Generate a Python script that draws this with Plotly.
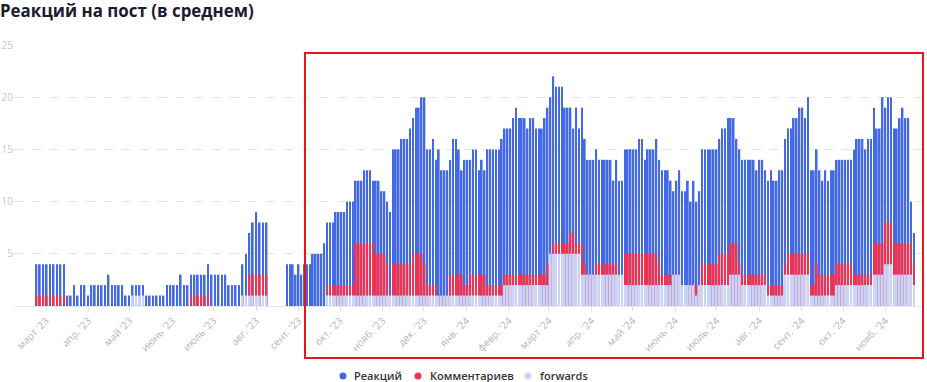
import pandas as pd
import plotly.graph_objects as go

# ---- data -------------------------------------------------------------
# early period (posts roughly every 2.5 days)
start_a = "2023-02-22"
step_a = "60h"
reactions_a = [4,4,4,4,4,4,4,4,4, 1,1,2,1,2,2,1, 2,2,2,2,2,3,2,2,2,2, 1,1,
               2,2,2,2, 1,1,1,1,1,1, 2,2,2,2, 3, 2,2, 3,3,3,3,3, 4, 3,3,3,3,3,
               2,2,2,2, 4,5,7,8,9,8,8,8]
comments_a = [1,1,1,1,1,1,1,1,1, 0,0,0,0,0,0,0, 0,0,0,0,0,0,0,0,0,0, 0,0,
              0,0,0,0, 0,0,0,0,0,0, 0,0,0,0, 0, 0,0, 1,1,1,1,1, 1, 0,0,0,0,0,
              0,0,0,0, 1,1,3,3,3,3,3,3]
forwards_a = [0,0,0,0,0,0,0,0,0, 0,0,0,0,0,0,0, 0,0,0,0,0,0,0,0,0,0, 0,0,
              1,1,1,1, 0,0,0,0,0,0, 0,0,0,0, 0, 0,0, 0,0,0,0,0, 0, 0,0,0,0,0,
              0,0,0,0, 1,1,1,1,1,1,1,1]

# later period (posts roughly every 2 days)
start_b = "2023-08-23 10:00"
step_b = "50h"
reactions_b = [
    4,4,4,3,4,3,4,4,4,5,   5,5,5,6,8,8,8,9,9,9,
    9,10,10,10,12,12,12,13,13,13,   12,12,12,11,11,10,9,15,15,15,
    16,16,16,17,18,19,19,20,20,15,   15,16,14,15,13,13,13,14,16,16,
    15,13,14,14,14,15,15,13,14,13,   15,15,15,15,15,16,17,17,17,18,
    19,18,18,18,17,18,18,17,17,17,   18,19,20,22,21,21,21,19,19,19,
    17,19,17,19,16,14,14,14,15,14,   14,14,14,14,12,14,12,12,15,15,
    15,15,15,16,16,14,15,15,15,16,   14,13,13,13,12,11,12,13,11,11,
    12,10,12,10,11,15,15,15,15,15,   15,16,17,17,18,18,18,16,15,14,
    14,14,14,14,13,14,14,13,12,13,   12,12,13,13,16,17,17,18,18,19,
    19,18,20,13,13,15,13,12,13,12,   13,13,14,14,14,14,14,14,15,16,
    16,16,15,16,16,19,17,17,20,19,   20,20,17,17,18,19,18,18,10,7]
comments_b = [
    0,0,0,0,0,0,0,0,0,0,   0,0,0,0,2,2,2,2,2,2,
    2,2,2,2,6,6,6,6,6,6,   6,5,5,5,5,4,1,4,4,4,
    4,4,4,4,5,5,5,5,4,2,   2,2,2,1,1,1,1,3,3,3,
    3,3,2,2,3,3,3,3,3,3,   2,2,2,2,2,2,3,3,3,3,
    3,3,3,3,3,3,3,3,3,3,   3,4,5,6,6,6,6,6,6,7,
    7,6,6,6,4,3,3,3,4,4,   4,4,4,4,4,4,3,3,5,5,
    5,5,5,5,5,5,5,5,5,5,   4,3,3,3,3,3,3,3,2,2,
    2,2,2,2,2,4,4,4,4,4,   4,5,5,5,5,6,6,6,4,3,
    3,3,3,3,3,3,3,3,2,2,   2,2,2,2,4,5,5,5,5,5,
    5,5,5,2,2,4,3,3,3,3,   3,3,4,4,4,4,4,4,3,3,
    3,3,3,3,3,6,6,6,6,8,   8,8,6,6,6,6,6,6,6,4]
forwards_b = [
    0,0,0,0,0,0,0,0,0,0,   0,0,0,0,1,1,1,1,1,1,
    1,1,1,1,1,1,1,1,1,1,   1,1,1,1,1,1,1,1,1,1,
    1,1,1,1,1,1,1,1,1,1,   1,1,1,1,1,1,1,1,1,1,
    1,1,1,1,1,1,1,1,1,1,   1,1,1,1,1,1,2,2,2,2,
    2,2,2,2,2,2,2,2,2,2,   2,2,5,5,5,5,5,5,5,5,
    5,5,5,3,3,3,3,3,3,3,   3,3,3,3,3,3,3,3,2,2,
    2,2,2,2,2,2,2,2,2,2,   2,2,2,2,2,3,3,3,2,2,
    2,2,2,1,2,2,2,2,2,2,   2,2,2,2,2,3,3,3,3,2,
    2,2,2,2,2,2,2,2,1,1,   1,1,1,1,3,3,3,3,3,3,
    3,3,3,1,1,1,1,1,1,1,   1,1,2,2,2,2,2,2,2,2,
    2,2,2,2,2,3,3,3,3,4,   4,4,3,3,3,3,3,3,3,2]

month_ticks = ["2023-03-01","2023-04-01","2023-05-01","2023-06-01","2023-07-01",
               "2023-08-01","2023-09-01","2023-10-01","2023-11-01","2023-12-01",
               "2024-01-01","2024-02-01","2024-03-01","2024-04-01","2024-05-01",
               "2024-06-01","2024-07-01","2024-08-01","2024-09-01","2024-10-01",
               "2024-11-01"]
month_labels = ["март '23","апр. '23","май '23","июнь '23","июль '23","авг. '23",
                "сент. '23","окт. '23","нояб. '23","дек. '23","янв. '24","февр. '24",
                "март '24","апр. '24","май '24","июнь '24","июль '24","авг. '24",
                "сент. '24","окт. '24","нояб. '24"]
y_ticks = [5, 10, 15, 20, 25]

series_names = ["Реакций", "Комментариев", "forwards"]
series_colors = ["#4369e3", "#ee3352", "#c9d4f7"]

# ---- build ------------------------------------------------------------
dates = list(pd.date_range(start_a, periods=len(reactions_a), freq=step_a)) + \
        list(pd.date_range(start_b, periods=len(reactions_b), freq=step_b))
values = [reactions_a + reactions_b, comments_a + comments_b, forwards_a + forwards_b]

fig = go.Figure()
for name, color, vals in zip(series_names, series_colors, values):
    fig.add_trace(go.Bar(x=dates, y=vals, name=name, marker_color=color,
                         marker_line_width=0, showlegend=False))

W, H = 927, 382
L, R, T, B = 14, 4, 45, 76
pw, ph = W - L - R, H - T - B

def px_x(x):
    return (x - L) / pw

def px_y(y):
    return (H - B - y) / ph

# legend drawn as dots + labels (compact spacing like the original)
legend_dot_x = [343, 418, 528]
legend_text_x = [353, 429, 539]
legend_y = 375
shapes = [dict(type="rect", xref="paper", yref="paper",
               x0=px_x(305), x1=px_x(923), y0=px_y(358), y1=px_y(53),
               line=dict(color="#e8141c", width=2), layer="above")]
annotations = []
for name, color, dx, tx in zip(series_names, series_colors, legend_dot_x, legend_text_x):
    shapes.append(dict(type="circle", xref="paper", yref="paper",
                       x0=px_x(dx - 3.5), x1=px_x(dx + 3.5),
                       y0=px_y(legend_y + 4.5), y1=px_y(legend_y - 2.5),
                       fillcolor=color, line=dict(width=0)))
    annotations.append(dict(text=name, xref="paper", yref="paper",
                            x=px_x(tx), y=px_y(legend_y), xanchor="left",
                            yanchor="middle", showarrow=False, borderpad=0,
                            font=dict(family="Open Sans", size=11,
                                      color="#333333", weight=600)))

fig.update_layout(
    width=W, height=H,
    margin=dict(l=L, r=R, t=T, b=B, autoexpand=False),
    paper_bgcolor="white", plot_bgcolor="white",
    barmode="overlay", bargap=0.4, showlegend=False,
    title=dict(text="Реакций на пост (в среднем)", x=0, xref="container",
               xanchor="left", y=1 - 11 / H, yref="container", yanchor="middle",
               font=dict(family="Open Sans", size=16.9, color="#1b1b2f", weight=700)),
    xaxis=dict(type="date", range=["2023-02-05 17:00", "2024-11-28 05:00"],
               tickmode="array", tickvals=month_ticks, ticktext=month_labels,
               tickangle=-45, ticks="outside", ticklen=4, tickcolor="#dcdfe8",
               showline=True, linecolor="#e3e6f0", showgrid=False,
               tickfont=dict(family="Open Sans", size=10, color="#b4b4b4")),
    yaxis=dict(range=[0, 25], tickmode="array", tickvals=y_ticks,
               showgrid=True, gridcolor="#e4e4e4", griddash="dash",
               zeroline=False, showline=False, ticks="",
               tickfont=dict(family="Open Sans", size=10, color="#c8c8c8")),
    shapes=shapes,
    annotations=annotations,
)

fig.write_html("out.html", config={"displayModeBar": False},
               post_script="document.body.style.margin='0';document.body.style.overflow='hidden';")
